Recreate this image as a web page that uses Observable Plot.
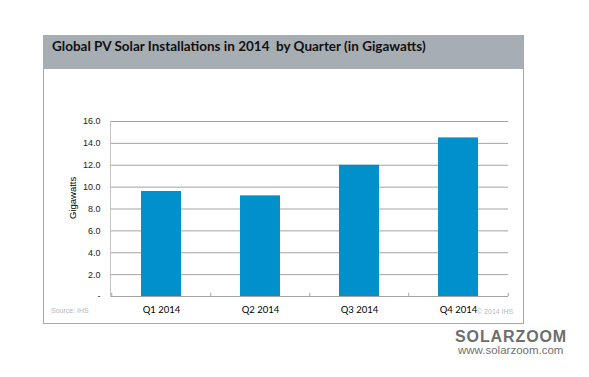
<!DOCTYPE html>
<html>
<head>
<meta charset="utf-8">
<script src="https://cdn.jsdelivr.net/npm/d3@7"></script>
<script src="https://cdn.jsdelivr.net/npm/@observablehq/plot@0.6"></script>
<style>
  html, body { margin: 0; padding: 0; background: #fff; }
  #page { position: relative; width: 589px; height: 377px; overflow: hidden; }
  #frame { position: absolute; left: 43px; top: 35px; width: 479px; height: 288px; border: 1px solid #a8a8a8; border-top: none; box-sizing: content-box; }
  #header { position: absolute; left: 43px; top: 35px; width: 480px; height: 34px; background: #a6adb3; }
  #title { position: absolute; left: 52px; top: 38px; font: bold 13.5px Lato, "Liberation Sans", sans-serif; color: #111; white-space: nowrap; }
  #chart { position: absolute; left: 43px; top: 70px; }
  .note { position: absolute; font: 7px "Liberation Sans", sans-serif; color: #b8b8b8; white-space: nowrap; }
  #logo { position: absolute; left: 455px; top: 328px; font: 900 16px "Liberation Sans", Arial, sans-serif; color: #6e6e6e; letter-spacing: 0.9px; white-space: nowrap; }
  #url { position: absolute; left: 458px; top: 344px; font: 11.5px "Liberation Sans", Arial, sans-serif; color: #707070; white-space: nowrap; }
</style>
</head>
<body>
<div id="page">
  <div id="frame"></div>
  <div id="header"></div>
  <div id="title">Global PV Solar Installations in 2014&nbsp; by Quarter (in Gigawatts)</div>
  <div id="chart"></div>
  <div class="note" style="left:51px; top:307px;">Source: IHS</div>
  <div class="note" style="left:477px; top:308px;">© 2014 IHS</div>
  <div id="logo">SOLARZOOM</div>
  <div id="url">www.solarzoom.com</div>
</div>
<script>
const quarters = ["Q1 2014", "Q2 2014", "Q3 2014", "Q4 2014"];
const values = [9.6, 9.2, 12.0, 14.5];
const yTicks = [0, 2, 4, 6, 8, 10, 12, 14, 16];
const yLabel = "Gigawatts";

const data = quarters.map((q, i) => ({quarter: q, value: values[i]}));

const W = 480, H = 253, mL = 67, mR = 15, mT = 51, mB = 27;
const step = (W - mL - mR) / quarters.length;

const plot = Plot.plot({
  width: W,
  height: H,
  marginLeft: mL,
  marginRight: mR,
  marginTop: mT,
  marginBottom: mB,
  style: {background: "transparent", overflow: "visible"},
  x: {domain: quarters, paddingInner: 0.6, paddingOuter: 0.3},
  y: {domain: [0, 16]},
  marks: [
    Plot.ruleY(yTicks, {stroke: "#a3a3a3", strokeWidth: 1, strokeOpacity: 1}),
    Plot.frame({anchor: "left", stroke: "#c4c4c4"}),
    Plot.ruleX(quarters, {x: d => d, dx: -step / 2, y1: 0, y2: 0.3, stroke: "#a3a3a3"}),
    Plot.ruleX(quarters.slice(-1), {x: d => d, dx: step / 2, y1: 0, y2: 0.3, stroke: "#a3a3a3"}),
    Plot.barY(data, {x: "quarter", y: "value", fill: "#0090cc"}),
    Plot.axisY({
      ticks: yTicks,
      tickSize: 0,
      tickPadding: 10,
      tickFormat: d => d === 0 ? "-" : d.toFixed(1),
      label: null,
      fontSize: 9,
      fontFamily: "Liberation Sans, Arial, sans-serif",
      fill: "#222"
    }),
    Plot.axisX({
      tickSize: 0,
      tickPadding: 10,
      label: null,
      fontSize: 9.5,
      fontFamily: "Lato, sans-serif",
      fill: "#000"
    }),
    Plot.text([yLabel], {
      frameAnchor: "left",
      rotate: -90,
      dx: -38,
      dy: 10,
      fontSize: 9.5,
      fontFamily: "Liberation Sans, Arial, sans-serif",
      fill: "#000"
    })
  ]
});
document.getElementById("chart").appendChild(plot);
</script>
</body>
</html>
